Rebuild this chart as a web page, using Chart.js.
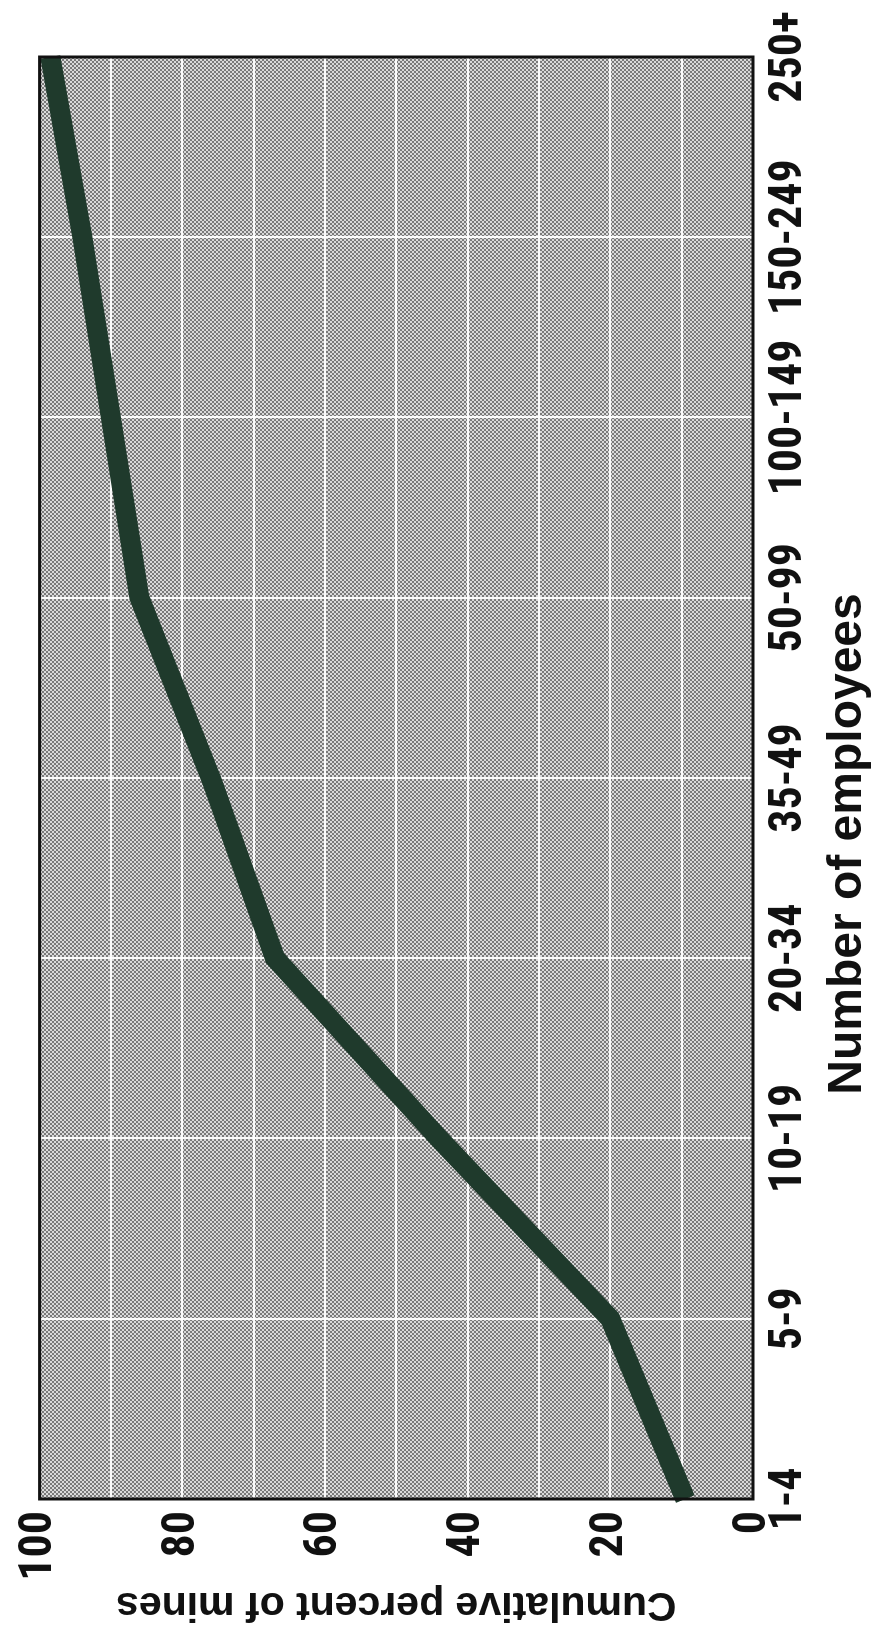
<!DOCTYPE html>
<html>
<head>
<meta charset="utf-8">
<script src="https://cdn.jsdelivr.net/npm/chart.js@4/dist/chart.umd.min.js"></script>
<style>
  html, body { margin: 0; padding: 0; background: #ffffff; overflow: hidden; }
  body { width: 880px; height: 1631px; position: relative; }
  #wrap {
    position: absolute; left: 0; top: 0;
    width: 1631px; height: 880px;
    transform-origin: 0 0;
    transform: translate(0px, 1631px) rotate(-90deg);
  }
  canvas { display: block; }
</style>
</head>
<body>
<div id="wrap"><canvas id="c" width="1631" height="880"></canvas></div>
<script>
// ---- data ----
const categories = ['1-4', '5-9', '10-19', '20-34', '35-49', '50-99', '100-149', '150-249', '250+'];
const cumulativePercent = [9.5, 20, 44, 67, 76, 86, 90, 94, 98.5];
const valueMin = 0;
const valueMax = 100;
const gridStep = 10;
const labelStep = 20;
const xTitle = 'Number of employees';
const yTitle = 'Cumulative percent of mines';

// ---- font selection (condensed bold for tick labels, if any is installed) ----
const probe = document.createElement('canvas').getContext('2d');
const SAMPLE = '0123456789-+ Number';
function widthOf(font) { probe.font = font; return probe.measureText(SAMPLE).width; }
function familyInstalled(weight, fam) {
  const a = widthOf(weight + ' 40px ' + fam + ', monospace');
  const b = widthOf(weight + ' 40px ' + fam + ', serif');
  return Math.abs(a - b) < 0.01;
}
function stretchWorks(fam) {
  if (!familyInstalled('bold', fam)) return false;
  const n = widthOf('bold 40px ' + fam);
  const c = widthOf('bold condensed 40px ' + fam);
  return c < n * 0.93;
}
function pickTickFont() {
  const named = ["'Liberation Sans Narrow'", "'Arial Narrow'", "'Nimbus Sans Narrow'", "'Roboto Condensed'",
                 "'Open Sans Condensed'", "'Noto Sans Condensed'", "'DejaVu Sans Condensed'"];
  for (const f of named) if (familyInstalled('bold', f)) return { family: f, weight: 'bold' };
  const stretchy = ["'Noto Sans'", "'Open Sans'", "Roboto", "'DejaVu Sans'", "'Liberation Sans'"];
  for (const f of stretchy) if (stretchWorks(f)) return { family: f, weight: 'bold condensed' };
  return { family: "'Liberation Sans', Arial, sans-serif", weight: 'bold' };
}
const tickFont = pickTickFont();
// size: digits ~33px tall as in the reference, but "150-249" no longer than ~160px
const tickSize = (function () {
  probe.font = tickFont.weight + ' 46px ' + tickFont.family;
  const m = probe.measureText('0');
  const capH = m.actualBoundingBoxAscent || 33;
  const w = probe.measureText('150-249').width || 143;
  const byHeight = 46 * 33 / capH;
  const byWidth = 46 * 160 / w;
  return Math.round(Math.max(38, Math.min(52, byHeight, byWidth)));
})();
const wideFont = "'Liberation Sans', Arial, 'DejaVu Sans', sans-serif";

function makePattern(ctx) {
  const p = document.createElement('canvas');
  p.width = 4; p.height = 4;
  const g = p.getContext('2d');
  g.fillStyle = '#dadada';
  g.fillRect(0, 0, 4, 4);
  g.fillStyle = '#7a7a7a';
  g.fillRect(0, 0, 2, 2);
  g.fillRect(2, 2, 2, 2);
  return ctx.createPattern(p, 'repeat');
}

const plotFrame = {
  id: 'plotFrame',
  beforeDraw(chart) {
    const { ctx, chartArea: a } = chart;
    ctx.save();
    ctx.fillStyle = makePattern(ctx);
    ctx.fillRect(a.left, a.top, a.right - a.left, a.bottom - a.top);
    ctx.restore();
  },
  afterDraw(chart) {
    const { ctx, chartArea: a } = chart;
    ctx.save();
    ctx.strokeStyle = '#111111';
    ctx.lineWidth = 3;
    ctx.strokeRect(a.left, a.top, a.right - a.left, a.bottom - a.top);
    ctx.restore();
  }
};

new Chart(document.getElementById('c'), {
  type: 'line',
  data: {
    labels: categories,
    datasets: [{
      data: cumulativePercent,
      borderColor: '#1f3a2c',
      borderWidth: 20,
      borderCapStyle: 'butt',
      borderJoinStyle: 'round',
      pointRadius: 0,
      tension: 0,
      fill: false
    }]
  },
  options: {
    responsive: false,
    animation: false,
    devicePixelRatio: 1,
    layout: { padding: { top: 36, right: 57, left: 0, bottom: 0 } },
    plugins: {
      legend: { display: false },
      tooltip: { enabled: false },
      title: {
        display: true,
        text: xTitle,
        position: 'bottom',
        color: '#111111',
        font: { family: wideFont, size: 48, weight: 'bold', lineHeight: 1 },
        padding: { top: 0, bottom: 8 }
      }
    },
    scales: {
      x: {
        type: 'category',
        offset: false,
        afterFit(scale) { scale.height = 71; },
        grid: { color: 'rgba(255,255,255,0.95)', lineWidth: 2, drawTicks: false, offset: false },
        border: { display: false },
        ticks: {
          color: '#111111',
          autoSkip: false,
          maxRotation: 0,
          minRotation: 0,
          padding: 9,
          font: { family: tickFont.family, size: tickSize, weight: tickFont.weight, lineHeight: 1.2 }
        }
      },
      y: {
        min: valueMin,
        max: valueMax,
        afterFit(scale) { scale.width = 132; },
        grid: { color: 'rgba(255,255,255,0.95)', lineWidth: 2, drawTicks: false },
        border: { display: false },
        ticks: {
          stepSize: gridStep,
          color: '#111111',
          padding: 12,
          font: { family: tickFont.family, size: tickSize, weight: tickFont.weight, lineHeight: 1.2 },
          callback: (v) => (v % labelStep === 0 ? String(v) : '')
        },
        title: {
          display: true,
          text: yTitle,
          color: '#111111',
          font: { family: wideFont, size: 41, weight: 'bold', lineHeight: 1.2 },
          padding: { top: 2, bottom: 0 }
        }
      }
    }
  },
  plugins: [plotFrame]
});
</script>
</body>
</html>
